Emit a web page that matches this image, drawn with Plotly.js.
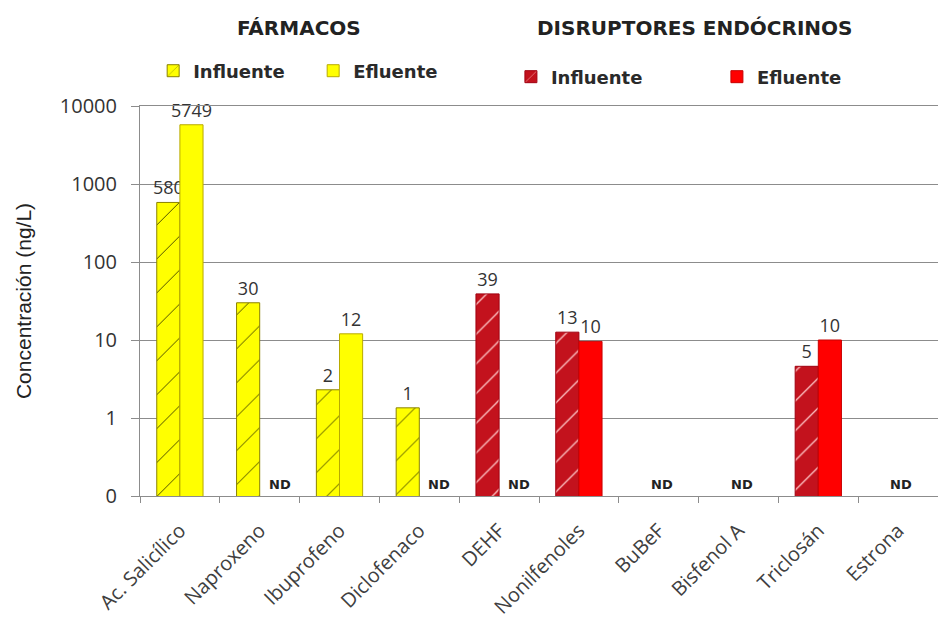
<!DOCTYPE html>
<html><head><meta charset="utf-8">
<script src="https://cdn.plot.ly/plotly-3.0.1.min.js"></script>
<style>html,body{margin:0;padding:0;background:#fff}#chart{width:938px;height:634px}</style>
</head><body><div id="chart"></div>
<script>
// ---- data ----
const categories = ['Ac. Salicílico','Naproxeno','Ibuprofeno','Diclofenaco','DEHF','Nonilfenoles','BuBeF','Bisfenol A','Triclosán','Estrona'];
const groupOf    = ['F','F','F','F','D','D','D','D','D','D'];
const influente  = [580, 30, 2.3, 1.35, 39, 12.6, null, null, 4.6, null];
const efluente   = [5749, null, 12, null, null, 9.6, null, null, 10, null];
const groupKeys  = ['F','D'];
const groupNames = ['FÁRMACOS','DISRUPTORES ENDÓCRINOS'];
const seriesNames = ['Influente','Efluente'];
const yTickVals = [0.1, 1, 10, 100, 1000, 10000];
const yTickText = ['0','1','10','100','1000','10000'];
const ndText = 'ND';

// ---- styles ----
const styles = {
  F: {
    inf: {bg:'#ffff00', fg:'#4a4a00', line:'#8a8200', size:24, sol:0.04},
    ef:  {fill:'#ffff00', line:'#b8aa00'}
  },
  D: {
    inf: {bg:'#c3121d', fg:'#ffc8c8', line:'#a00010', size:21, sol:0.06},
    ef:  {fill:'#ff0000', line:'#c80000'}
  }
};
const legendIds = {F:'legend', D:'legend2'};

function pick(arr, g){
  const xs=[], ys=[];
  categories.forEach((c,i)=>{ if(groupOf[i]===g){ xs.push(c); ys.push(arr[i]); } });
  return {x:xs, y:ys};
}

const textFont = {family:'Open Sans', size:18, color:'#333'};
const traces = [];
groupKeys.forEach(g=>{
  const s = styles[g];
  const a = pick(influente, g), b = pick(efluente, g);
  traces.push({
    type:'bar', name:seriesNames[0], x:a.x, y:a.y, offsetgroup:'inf', legend:legendIds[g],
    marker:{color:s.inf.bg, line:{color:s.inf.line, width:1},
      pattern:{shape:'/', fgcolor:s.inf.fg, bgcolor:s.inf.bg, size:s.inf.size, solidity:s.inf.sol, fillmode:'replace'}},
    texttemplate:'%{y:.0f}', textposition:'outside', textangle:0, constraintext:'none',
    textfont:textFont, cliponaxis:false, hoverinfo:'x+y'
  });
  traces.push({
    type:'bar', name:seriesNames[1], x:b.x, y:b.y, offsetgroup:'ef', legend:legendIds[g],
    marker:{color:s.ef.fill, line:{color:s.ef.line, width:1}},
    texttemplate:'%{y:.0f}', textposition:'outside', textangle:0, constraintext:'none',
    textfont:textFont, cliponaxis:false, hoverinfo:'x+y'
  });
});

const annotations = [];
// group titles
const titleX = [0.199, 0.6955];
groupNames.forEach((t,k)=>{
  annotations.push({text:t, xref:'paper', yref:'paper', x:titleX[k], y:1.2, xanchor:'center', yanchor:'middle',
    showarrow:false, font:{family:'DejaVu Sans', size:20, weight:'bold', color:'#222'}});
});
// ND markers
categories.forEach((c,i)=>{
  if(efluente[i]===null){
    annotations.push({text:ndText, x:c, y:-1, xref:'x', yref:'y', xanchor:'center', yanchor:'bottom',
      xshift: influente[i]===null ? 3 : 20, yshift:2, showarrow:false,
      font:{family:'DejaVu Sans', size:13, weight:'bold', color:'#222'}});
  }
});

const legendFont = {family:'DejaVu Sans', size:18, weight:'bold', color:'#2a2a2a'};
const layout = {
  width:938, height:634,
  margin:{l:140, r:0, t:106, b:138},
  paper_bgcolor:'#fff', plot_bgcolor:'#fff',
  barmode:'group', bargap:0.42, bargroupgap:0,
  showlegend:true,
  legend:{orientation:'h', x:0.0165, xanchor:'left', y:1.0897, yanchor:'middle', font:legendFont,
    entrywidth:115, entrywidthmode:'pixels', bgcolor:'rgba(0,0,0,0)', traceorder:'normal'},
  legend2:{orientation:'h', x:0.4648, xanchor:'left', y:1.0744, yanchor:'middle', font:legendFont,
    entrywidth:161, entrywidthmode:'pixels', bgcolor:'rgba(0,0,0,0)', traceorder:'normal'},
  xaxis:{type:'category', categoryorder:'array', categoryarray:categories, range:[-0.5, 9.5],
    tickson:'boundaries', ticks:'outside', ticklen:6, tickcolor:'#8c8c8c', showline:true, linecolor:'#8c8c8c',
    mirror:true,
    tickangle:-45, tickfont:{family:'Open Sans', size:20, color:'#404040'}, ticklabelstandoff:14,
    showgrid:false, automargin:false},
  yaxis:{type:'log', range:[-1, 4], tickvals:yTickVals, ticktext:yTickText, showgrid:true, gridcolor:'#8c8c8c',
    gridwidth:1, showline:true, linecolor:'#8c8c8c', ticks:'outside', ticklen:8, tickcolor:'#8c8c8c',
    tickfont:{family:'Open Sans', size:20, color:'#333'}, zeroline:false, automargin:false, ticklabelstandoff:10,
    title:{text:'Concentración (ng/L)', font:{family:'Liberation Sans', size:21, color:'#222'}, standoff:22}},
  annotations:annotations
};

Plotly.newPlot('chart', traces, layout, {displayModeBar:false, staticPlot:true});
</script>
</body></html>
